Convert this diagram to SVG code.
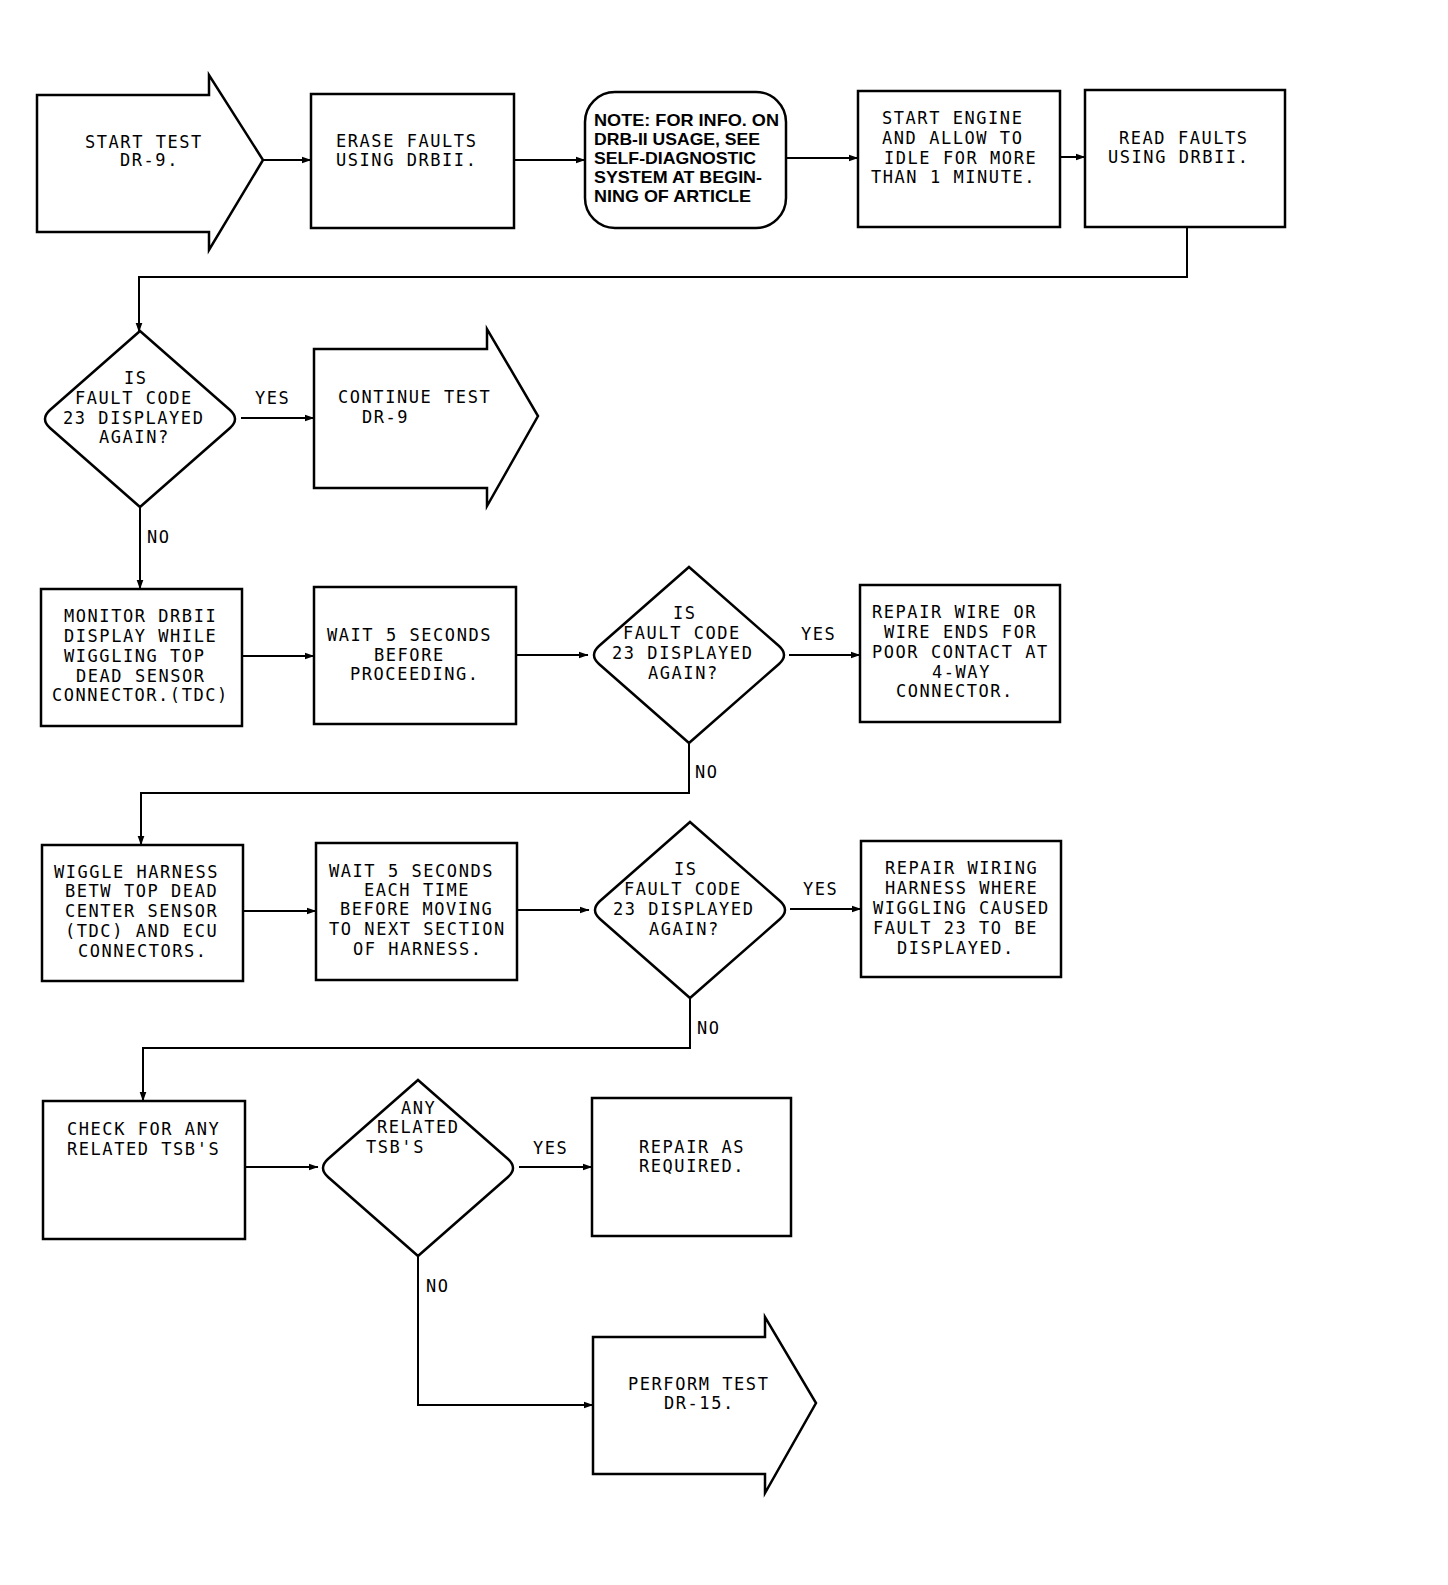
<svg xmlns="http://www.w3.org/2000/svg" xmlns:xlink="http://www.w3.org/1999/xlink" width="1448" height="1585" viewBox="0 0 1448 1585">
<style>
.b{fill:none;stroke:#000;stroke-width:2.5;stroke-linejoin:miter}
.t{font-family:"DejaVu Sans Mono","Liberation Mono",monospace;font-size:17px;letter-spacing:1.55px;fill:#000}
.n{font-family:"Liberation Sans",Arial,sans-serif;font-weight:bold;font-size:16.5px;fill:#000}
.c{fill:none;stroke:#000;stroke-width:2}
</style>
<defs>
<marker id="ah" markerWidth="10" markerHeight="8" refX="9.5" refY="4" orient="auto" markerUnits="userSpaceOnUse"><path d="M0,0.5 L10,4 L0,7.5 z" fill="#000"/></marker>
<path id="dia" d="M0,-88 L90,-9 Q100,0 90,9 L0,88 L-90,9 Q-100,0 -90,-9 Z"/>
</defs>
<rect width="1448" height="1585" fill="#fff"/>

<g id="connectors" class="c">
<path d="M263,160 H311" marker-end="url(#ah)"/>
<path d="M514,160 H585" marker-end="url(#ah)"/>
<path d="M786,158 H858" marker-end="url(#ah)"/>
<path d="M1060,157 H1085" marker-end="url(#ah)"/>
<path d="M1187,227 V277 H139 V332" marker-end="url(#ah)"/>
<path d="M241,418 H314" marker-end="url(#ah)"/>
<path d="M140,507 V589" marker-end="url(#ah)"/>
<path d="M242,656 H314" marker-end="url(#ah)"/>
<path d="M516,655 H588" marker-end="url(#ah)"/>
<path d="M789,655 H860" marker-end="url(#ah)"/>
<path d="M689,742 V793 H141 V845" marker-end="url(#ah)"/>
<path d="M243,911 H316" marker-end="url(#ah)"/>
<path d="M517,910 H589" marker-end="url(#ah)"/>
<path d="M790,909 H861" marker-end="url(#ah)"/>
<path d="M690,998 V1048 H143 V1101" marker-end="url(#ah)"/>
<path d="M245,1167 H318" marker-end="url(#ah)"/>
<path d="M519,1167 H592" marker-end="url(#ah)"/>
<path d="M418,1256 V1405 H593" marker-end="url(#ah)"/>
</g>

<g id="labels" class="t">
<text x="255" y="404">YES</text>
<text x="147" y="543">NO</text>
<text x="801" y="640">YES</text>
<text x="695" y="778">NO</text>
<text x="803" y="895">YES</text>
<text x="697" y="1034">NO</text>
<text x="533" y="1154">YES</text>
<text x="426" y="1292">NO</text>
</g>

<g id="start">
<polygon class="b" points="37,95 209,95 209,75 263,160 209,250 209,232 37,232"/>
<text class="t" x="85" y="148">START TEST</text>
<text class="t" x="120" y="166">DR-9.</text>
</g>

<g id="erase">
<rect class="b" x="311" y="94" width="203" height="134"/>
<text class="t" x="336" y="147">ERASE FAULTS</text>
<text class="t" x="336" y="166">USING DRBII.</text>
</g>

<g id="note">
<rect class="b" x="585" y="92" width="201" height="136" rx="30" ry="30"/>
<text class="n" x="594" y="126" textLength="185" lengthAdjust="spacingAndGlyphs">NOTE: FOR INFO. ON</text>
<text class="n" x="594" y="145" textLength="166" lengthAdjust="spacingAndGlyphs">DRB-II USAGE, SEE</text>
<text class="n" x="594" y="164" textLength="162" lengthAdjust="spacingAndGlyphs">SELF-DIAGNOSTIC</text>
<text class="n" x="594" y="183" textLength="168" lengthAdjust="spacingAndGlyphs">SYSTEM AT BEGIN-</text>
<text class="n" x="594" y="202" textLength="157" lengthAdjust="spacingAndGlyphs">NING OF ARTICLE</text>
</g>

<g id="startengine">
<rect class="b" x="858" y="91" width="202" height="136"/>
<text class="t" x="882" y="124">START ENGINE</text>
<text class="t" x="882" y="144">AND ALLOW TO</text>
<text class="t" x="884" y="164">IDLE FOR MORE</text>
<text class="t" x="871" y="183">THAN 1 MINUTE.</text>
</g>

<g id="readfaults">
<rect class="b" x="1085" y="90" width="200" height="137"/>
<text class="t" x="1119" y="144">READ FAULTS</text>
<text class="t" x="1108" y="163">USING DRBII.</text>
</g>

<g id="decision1">
<use xlink:href="#dia" href="#dia" x="140" y="419" class="b"/>
<text class="t" x="124" y="384">IS</text>
<text class="t" x="75" y="404">FAULT CODE</text>
<text class="t" x="63" y="424">23 DISPLAYED</text>
<text class="t" x="99" y="443">AGAIN?</text>
</g>

<g id="continue">
<polygon class="b" points="314,349 487,349 487,329 538,416 487,506 487,488 314,488"/>
<text class="t" x="338" y="403">CONTINUE TEST</text>
<text class="t" x="362" y="423">DR-9</text>
</g>

<g id="monitor">
<rect class="b" x="41" y="589" width="201" height="137"/>
<text class="t" x="64" y="622">MONITOR DRBII</text>
<text class="t" x="64" y="642">DISPLAY WHILE</text>
<text class="t" x="64" y="662">WIGGLING TOP</text>
<text class="t" x="76" y="682">DEAD SENSOR</text>
<text class="t" x="52" y="701">CONNECTOR.(TDC)</text>
</g>

<g id="wait1">
<rect class="b" x="314" y="587" width="202" height="137"/>
<text class="t" x="327" y="641">WAIT 5 SECONDS</text>
<text class="t" x="374" y="661">BEFORE</text>
<text class="t" x="350" y="680">PROCEEDING.</text>
</g>

<g id="decision2">
<use xlink:href="#dia" href="#dia" x="689" y="655" class="b"/>
<text class="t" x="673" y="619">IS</text>
<text class="t" x="623" y="639">FAULT CODE</text>
<text class="t" x="612" y="659">23 DISPLAYED</text>
<text class="t" x="648" y="679">AGAIN?</text>
</g>

<g id="repairwire">
<rect class="b" x="860" y="585" width="200" height="137"/>
<text class="t" x="872" y="618">REPAIR WIRE OR</text>
<text class="t" x="884" y="638">WIRE ENDS FOR</text>
<text class="t" x="872" y="658">POOR CONTACT AT</text>
<text class="t" x="932" y="678">4-WAY</text>
<text class="t" x="896" y="697">CONNECTOR.</text>
</g>

<g id="wiggle">
<rect class="b" x="42" y="845" width="201" height="136"/>
<text class="t" x="54" y="878">WIGGLE HARNESS</text>
<text class="t" x="65" y="897">BETW TOP DEAD</text>
<text class="t" x="65" y="917">CENTER SENSOR</text>
<text class="t" x="65" y="937">(TDC) AND ECU</text>
<text class="t" x="78" y="957">CONNECTORS.</text>
</g>

<g id="wait2">
<rect class="b" x="316" y="843" width="201" height="137"/>
<text class="t" x="329" y="877">WAIT 5 SECONDS</text>
<text class="t" x="364" y="896">EACH TIME</text>
<text class="t" x="340" y="915">BEFORE MOVING</text>
<text class="t" x="329" y="935">TO NEXT SECTION</text>
<text class="t" x="353" y="955">OF HARNESS.</text>
</g>

<g id="decision3">
<use xlink:href="#dia" href="#dia" x="690" y="910" class="b"/>
<text class="t" x="674" y="875">IS</text>
<text class="t" x="624" y="895">FAULT CODE</text>
<text class="t" x="613" y="915">23 DISPLAYED</text>
<text class="t" x="649" y="935">AGAIN?</text>
</g>

<g id="repairwiring">
<rect class="b" x="861" y="841" width="200" height="136"/>
<text class="t" x="885" y="874">REPAIR WIRING</text>
<text class="t" x="885" y="894">HARNESS WHERE</text>
<text class="t" x="873" y="914">WIGGLING CAUSED</text>
<text class="t" x="873" y="934">FAULT 23 TO BE</text>
<text class="t" x="897" y="954">DISPLAYED.</text>
</g>

<g id="checktsb">
<rect class="b" x="43" y="1101" width="202" height="138"/>
<text class="t" x="67" y="1135">CHECK FOR ANY</text>
<text class="t" x="67" y="1155">RELATED TSB'S</text>
</g>

<g id="decision4">
<use xlink:href="#dia" href="#dia" x="418" y="1168" class="b"/>
<text class="t" x="401" y="1114">ANY</text>
<text class="t" x="377" y="1133">RELATED</text>
<text class="t" x="366" y="1153">TSB'S</text>
</g>

<g id="repairas">
<rect class="b" x="592" y="1098" width="199" height="138"/>
<text class="t" x="639" y="1153">REPAIR AS</text>
<text class="t" x="639" y="1172">REQUIRED.</text>
</g>

<g id="perform">
<polygon class="b" points="593,1337 765,1337 765,1317 816,1403 765,1493 765,1474 593,1474"/>
<text class="t" x="628" y="1390">PERFORM TEST</text>
<text class="t" x="664" y="1409">DR-15.</text>
</g>
</svg>
